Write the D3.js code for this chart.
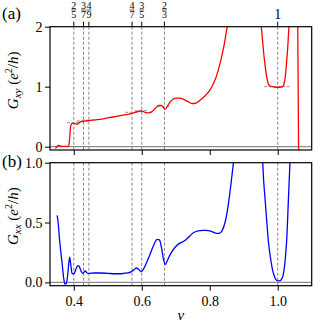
<!DOCTYPE html>
<html>
<head>
<meta charset="utf-8">
<script src="https://d3js.org/d3.v7.min.js"></script>
<style>
  body { margin: 0; background: #fff; }
  svg text { font-family: "Liberation Serif", "Times New Roman", serif; }
</style>
</head>
<body>
<svg id="chart" width="332" height="322" font-family="Liberation Serif"></svg>
<script>
// filling fractions marked on the top axis
var fracNu = [2/5, 3/7, 4/9, 4/7, 3/5, 2/3, 1];
var fracNum = ["2", "3", "4", "4", "3", "2", "1"];
var fracDen = ["5", "7", "9", "7", "5", "3", ""];

// Hall conductance G_xy (a)
var nuXY = [0.346, 0.350, 0.356, 0.362, 0.370, 0.380, 0.385, 0.388, 0.391, 0.395, 0.400, 0.405, 0.410,
  0.415, 0.420, 0.430, 0.444, 0.470, 0.500, 0.530, 0.550, 0.571, 0.585, 0.596, 0.604, 0.611, 0.620,
  0.630, 0.640, 0.650, 0.657, 0.663, 0.669, 0.676, 0.684, 0.692, 0.700, 0.710, 0.723, 0.735, 0.748,
  0.755, 0.762, 0.775, 0.790, 0.800, 0.810, 0.820, 0.830, 0.839, 0.845, 0.849, 0.853, 0.860, 0.900,
  0.945, 0.951, 0.955, 0.958, 0.962, 0.968, 0.974, 0.980, 0.990, 1.000, 1.010, 1.015, 1.018, 1.022,
  1.026, 1.030, 1.033, 1.040, 1.050, 1.058, 1.062];
var gXY = [-0.03, 0.0, 0.02, 0.01, 0.005, 0.005, 0.01, 0.15, 0.35, 0.39, 0.39, 0.38, 0.375,
  0.395, 0.415, 0.425, 0.435, 0.45, 0.48, 0.51, 0.53, 0.556, 0.58, 0.595, 0.59, 0.567, 0.565,
  0.585, 0.64, 0.69, 0.69, 0.655, 0.625, 0.68, 0.75, 0.79, 0.81, 0.81, 0.79, 0.755, 0.72,
  0.72, 0.735, 0.79, 0.87, 0.94, 1.04, 1.18, 1.38, 1.6, 1.78, 1.92, 2.05, 2.4, 4.0,
  2.4, 2.05, 1.8, 1.6, 1.4, 1.15, 1.03, 1.005, 0.995, 0.99, 0.995, 1.005, 1.04, 1.15,
  1.4, 1.7, 2.0, 2.5, 2.8, 2.8, -0.5];

// longitudinal conductance G_xx (b)
var nuXX = [0.351, 0.354, 0.358, 0.362, 0.366, 0.370, 0.374, 0.378, 0.382, 0.385, 0.388, 0.391, 0.395,
  0.400, 0.405, 0.410, 0.414, 0.418, 0.422, 0.426, 0.430, 0.434, 0.438, 0.444, 0.460, 0.480, 0.500,
  0.520, 0.540, 0.555, 0.567, 0.575, 0.584, 0.592, 0.598, 0.605, 0.615, 0.625, 0.635, 0.645, 0.652,
  0.658, 0.664, 0.669, 0.675, 0.685, 0.700, 0.713, 0.725, 0.735, 0.750, 0.765, 0.780, 0.790, 0.800,
  0.810, 0.820, 0.828, 0.836, 0.845, 0.852, 0.858, 0.864, 0.869, 0.872, 0.900, 0.953, 0.956, 0.958,
  0.963, 0.968, 0.973, 0.978, 0.983, 0.988, 0.993, 0.998, 1.004, 1.010, 1.015, 1.019, 1.022, 1.027,
  1.031, 1.036, 1.040];
var gXX = [0.56, 0.50, 0.36, 0.25, 0.15, 0.04, -0.015, -0.01, 0.06, 0.15, 0.21, 0.15, 0.075,
  0.07, 0.10, 0.135, 0.14, 0.12, 0.09, 0.075, 0.085, 0.095, 0.08, 0.075, 0.078, 0.078, 0.075,
  0.072, 0.072, 0.078, 0.085, 0.10, 0.12, 0.105, 0.088, 0.11, 0.17, 0.24, 0.31, 0.36, 0.355,
  0.29, 0.19, 0.15, 0.18, 0.24, 0.30, 0.33, 0.345, 0.37, 0.41, 0.43, 0.435, 0.435, 0.43,
  0.42, 0.41, 0.41, 0.43, 0.50, 0.60, 0.72, 0.86, 0.98, 1.06, 2.0, 1.15, 1.0, 0.88,
  0.69, 0.50, 0.33, 0.22, 0.13, 0.07, 0.03, 0.015, 0.012, 0.02, 0.05, 0.11, 0.19, 0.38,
  0.66, 1.0, 1.25];

var svg = d3.select("#chart");
var left = 50, right = 311.7;
var serif = "'Liberation Serif', 'Times New Roman', serif";

var x = d3.scaleLinear().domain([0.33, 1.1]).range([left, right]);

var panels = [
  { id: "a", top: 26.7, bottom: 150, dom: [-0.055, 2], ticks: [0, 1, 2], fmt: d3.format("d"),
    nu: nuXY, g: gXY, color: "#ff0000", sub: "xy", plateau: true },
  { id: "b", top: 162.7, bottom: 285.7, dom: [-0.028, 1], ticks: [0, 0.5, 1], fmt: d3.format(".1f"),
    nu: nuXX, g: gXX, color: "#0000ff", sub: "xx", plateau: false }
];

panels.forEach(function (p, i) {
  var y = d3.scaleLinear().domain(p.dom).range([p.bottom, p.top]);
  var g = svg.append("g");

  g.append("clipPath").attr("id", "clip" + p.id)
    .append("rect").attr("x", left).attr("y", p.top)
    .attr("width", right - left).attr("height", p.bottom - p.top);

  var plot = g.append("g").attr("clip-path", "url(#clip" + p.id + ")");

  // zero line
  plot.append("line")
    .attr("x1", left).attr("x2", right)
    .attr("y1", y(0)).attr("y2", y(0))
    .attr("stroke", "#8c8c8c").attr("stroke-width", 1.2);

  // dashed lines at the filling fractions
  plot.selectAll("line.frac").data(fracNu).enter().append("line")
    .attr("class", "frac")
    .attr("x1", function (d) { return x(d); }).attr("x2", function (d) { return x(d); })
    .attr("y1", p.top).attr("y2", p.bottom)
    .attr("stroke", "#777").attr("stroke-width", 0.9)
    .attr("stroke-dasharray", "3,2");

  // expected plateau values
  if (p.plateau) {
    plot.selectAll("line.plat").data(fracNu).enter().append("line")
      .attr("class", "plat")
      .attr("x1", function (d) { return x(d - (d == 1 ? 0.04 : 0.02)); })
      .attr("x2", function (d) { return x(d + (d == 1 ? 0.04 : 0.02)); })
      .attr("y1", function (d) { return y(d); }).attr("y2", function (d) { return y(d); })
      .attr("stroke", "#a8a8a8").attr("stroke-width", 1.3)
      .attr("stroke-dasharray", "3,1.5");
  }

  var line = d3.line()
    .x(function (d) { return x(d[0]); })
    .y(function (d) { return y(d[1]); })
    .curve(d3.curveMonotoneX);

  plot.append("path")
    .datum(d3.zip(p.nu, p.g))
    .attr("d", line)
    .attr("fill", "none")
    .attr("stroke", p.color)
    .attr("stroke-width", 1.3);

  // axes
  var yAxis = d3.axisLeft(y).tickValues(p.ticks).tickFormat(p.fmt).tickSize(5).tickPadding(2.5).tickSizeOuter(0);
  var ya = g.append("g").attr("transform", "translate(" + left + ",0)").call(yAxis);

  var xAxis = d3.axisBottom(x).tickValues([0.4, 0.6, 0.8, 1.0]).tickSize(5).tickPadding(5).tickSizeOuter(0)
    .tickFormat(i == 1 ? d3.format(".1f") : "");
  var xa = g.append("g").attr("transform", "translate(0," + p.bottom + ")").call(xAxis);

  [ya, xa].forEach(function (a) {
    a.attr("font-family", serif);
    a.select(".domain").remove();
    a.selectAll("line").attr("stroke", "#000").attr("stroke-width", 1);
    a.selectAll("text").attr("font-size", 14).attr("fill", "#000");
  });

  // frame
  g.append("rect").attr("x", left).attr("y", p.top)
    .attr("width", right - left).attr("height", p.bottom - p.top)
    .attr("fill", "none").attr("stroke", "#000").attr("stroke-width", 1.2);

  // panel tag
  g.append("text").attr("x", 2).attr("y", p.top - (i == 0 ? 8 : -4))
    .attr("font-size", 17).text("(" + p.id + ")");

  // y label
  var cy = (p.top + p.bottom) / 2 - 8;
  var lab = g.append("text")
    .attr("transform", "translate(18," + cy + ") rotate(-90)")
    .attr("text-anchor", "middle").attr("font-size", 15);
  lab.append("tspan").attr("font-style", "italic").text("G");
  lab.append("tspan").attr("font-style", "italic").attr("font-size", 11).attr("dy", 3).text(p.sub);
  lab.append("tspan").attr("dy", -3).text(" (");
  lab.append("tspan").attr("font-style", "italic").text("e");
  lab.append("tspan").attr("font-size", 10).attr("dy", -6).text("2");
  lab.append("tspan").attr("dy", 6).text("/");
  lab.append("tspan").attr("font-style", "italic").text("h");
  lab.append("tspan").text(")");

  // top axis with fractions
  if (i == 0) {
    var top = g.append("g");
    top.selectAll("line").data(fracNu).enter().append("line")
      .attr("x1", function (d) { return x(d); }).attr("x2", function (d) { return x(d); })
      .attr("y1", p.top - 5).attr("y2", p.top)
      .attr("stroke", "#000").attr("stroke-width", 1);
    fracNu.forEach(function (v, k) {
      var cx = x(v);
      if (fracDen[k] === "") {
        top.append("text").attr("x", cx).attr("y", p.top - 8)
          .attr("text-anchor", "middle").attr("font-size", 14).text(fracNum[k]);
      } else {
        top.append("text").attr("x", cx).attr("y", 8.5)
          .attr("text-anchor", "middle").attr("font-size", 10).text(fracNum[k]);
        top.append("line").attr("x1", cx - 2.5).attr("x2", cx + 2.5)
          .attr("y1", 10).attr("y2", 10).attr("stroke", "#000").attr("stroke-width", 0.6);
        top.append("text").attr("x", cx).attr("y", 18)
          .attr("text-anchor", "middle").attr("font-size", 10).text(fracDen[k]);
      }
    });
  } else {
    g.append("text").attr("x", (left + right) / 2).attr("y", 320)
      .attr("text-anchor", "middle").attr("font-size", 15).attr("font-style", "italic").text("ν");
  }
});
</script>
</body>
</html>
